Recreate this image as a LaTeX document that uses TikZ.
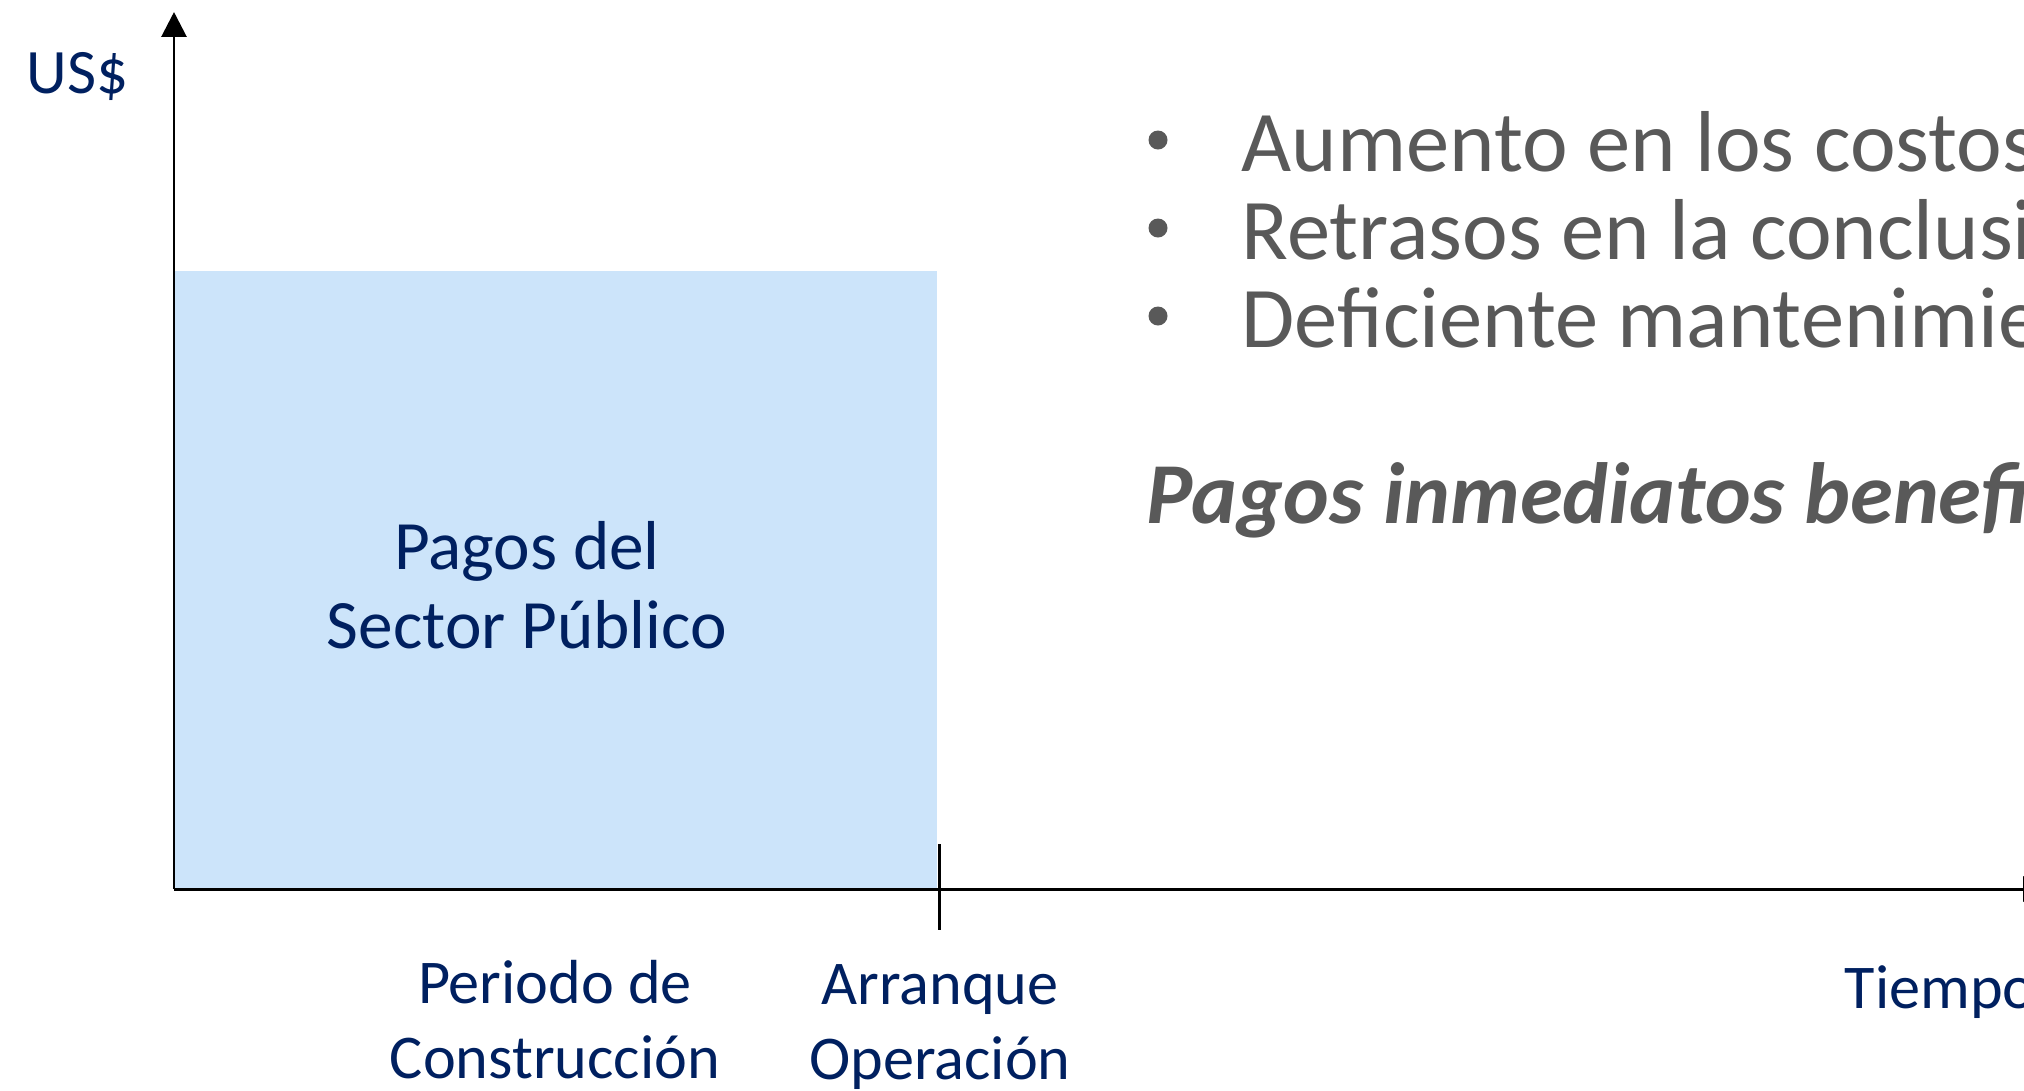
\documentclass[tikz,border=0pt]{standalone}
\usepackage{fontspec}
\setmainfont{Carlito}
\usetikzlibrary{arrows.meta}
\begin{document}
\begin{tikzpicture}[x=0.01cm,y=-0.01cm]
\definecolor{navy}{RGB}{0,32,96}
\definecolor{greytext}{RGB}{89,89,89}
\definecolor{paybox}{RGB}{204,228,250}
\tikzstyle{axis}=[line width=0.85pt,-{Triangle[length=7.1pt,width=7.1pt]}]
\tikzstyle{label}=[navy,inner sep=0pt,anchor=base,font=\fontsize{17.7}{21}\selectfont]
\tikzstyle{point}=[greytext,inner sep=0pt,anchor=base west,font=\fontsize{24.6}{25}\selectfont]
\tikzstyle{dot}=[greytext,circle,fill,inner sep=0pt,minimum size=0.19cm]
\useasboundingbox (0,0) rectangle (2024,1090);
\clip (0,0) rectangle (2024,1090);
% axes
\coordinate (o) at (174,889);
\coordinate (ytop) at (174,12);
\coordinate (xend) at (2048,889);
\coordinate (boxtop) at (937,271);
\coordinate (ticktop) at (939,844);
\coordinate (tickbot) at (939,930);
\fill[paybox] (o) rectangle (boxtop);
\draw[axis] (o) -- (ytop);
\draw[axis] (o) -- (xend);
\draw[line width=0.85pt] (ticktop) -- (tickbot);
% labels
\node[label,anchor=base west,font=\fontsize{18}{22}\selectfont] (usd) at (26,93) {US\$};
\node[label,font=\fontsize{19.7}{23}\selectfont] (pagos1) at (527,569) {Pagos del};
\node[label,font=\fontsize{19.7}{23}\selectfont] (pagos2) at (527,648) {Sector Público};
\node[label] (periodo1) at (555,1003) {Periodo de};
\node[label] (periodo2) at (555,1078) {Construcción};
\node[label] (arranque1) at (940,1004) {Arranque};
\node[label] (arranque2) at (940,1079) {Operación};
\node[label,anchor=base west] (tiempo) at (1844,1008) {Tiempo};
% points
\node[point] (p1) at (1241,171) {Aumento en los costos};
\node[point] (p2) at (1241,259) {Retrasos en la conclusión};
\node[point] (p3) at (1241,347) {Deficiente mantenimiento};
\foreach \y [count=\i] in {140,228,316}
  \node[dot] (dot\i) at (1158,\y) {};
\node[point,font=\fontsize{24.7}{25}\selectfont\bfseries\itshape] (inmediatos) at (1146,523) {Pagos inmediatos beneficios};
\end{tikzpicture}
\end{document}
